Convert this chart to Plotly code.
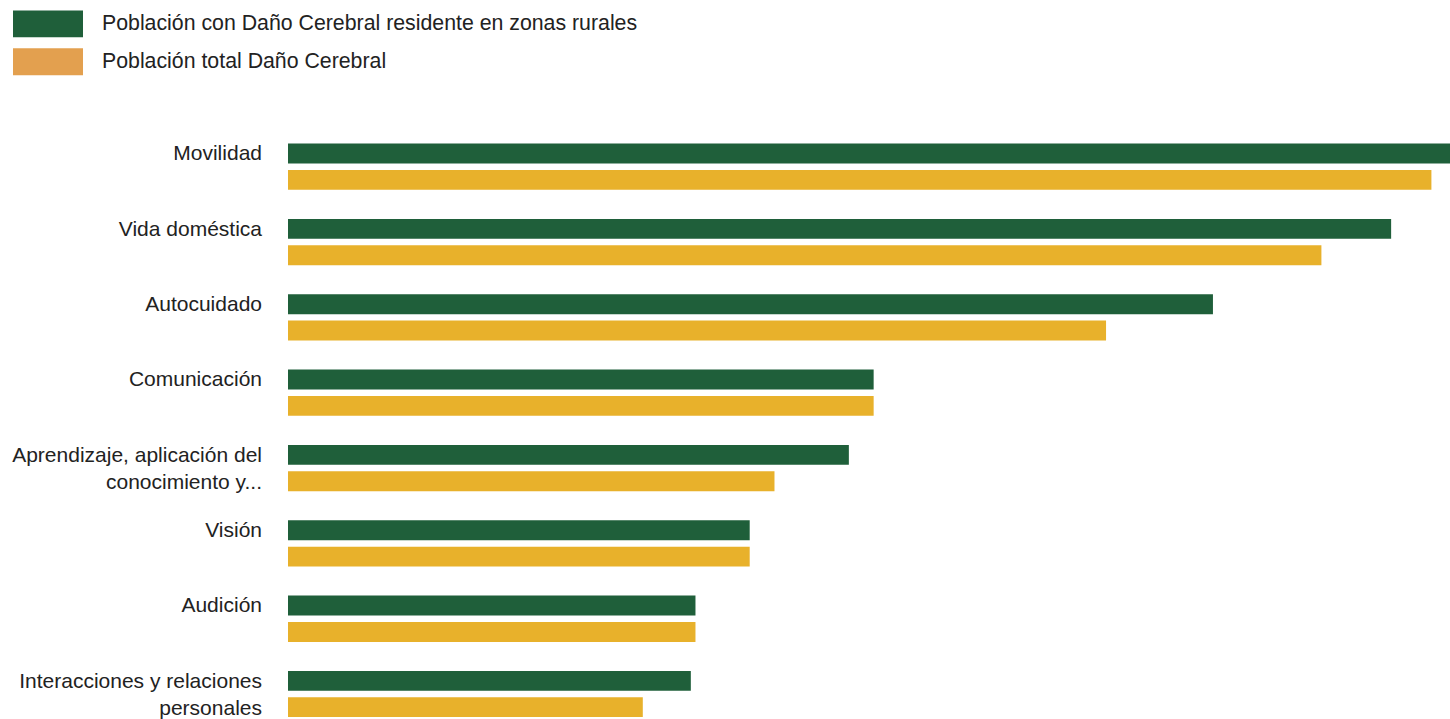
import plotly.graph_objects as go

categories = [
    "Movilidad",
    "Vida doméstica",
    "Autocuidado",
    "Comunicación",
    "Aprendizaje, aplicación del<br>conocimiento y...",
    "Visión",
    "Audición",
    "Interacciones y relaciones<br>personales",
]
rural = [75.0, 71.2, 59.7, 37.8, 36.2, 29.8, 26.3, 26.0]
total = [73.8, 66.7, 52.8, 37.8, 31.4, 29.8, 26.3, 22.9]
series_names = [
    "Población con Daño Cerebral residente en zonas rurales",
    "Población total Daño Cerebral",
]

GREEN = "#1F5F3A"
GOLD = "#E8B12B"
LEGEND_ORANGE = "#E3A04F"
FONT = "Liberation Sans, Arial, Helvetica, sans-serif"

W, H = 1450, 719
ML, MR, MT, MB = 288, 0, 129, 0
PW, PH = W - ML - MR, H - MT - MB


def px_x(px):
    return (px - ML) / PW


def px_y(py):
    return (H - MB - py) / PH


# single-line labels sit a little higher than the category centre
ticktext = [c if "<br>" in c else c + "<br> " for c in categories]

fig = go.Figure()
fig.add_trace(go.Bar(y=categories, x=rural, orientation="h", name=series_names[0],
                     marker=dict(color=GREEN, line=dict(width=0)), showlegend=False))
fig.add_trace(go.Bar(y=categories, x=total, orientation="h", name=series_names[1],
                     marker=dict(color=GOLD, line=dict(width=0)), showlegend=False))

# legend drawn as swatches + labels
legend_items = [(series_names[0], GREEN, 10, 37), (series_names[1], LEGEND_ORANGE, 48, 75)]
for name, col, y0, y1 in legend_items:
    fig.add_shape(type="rect", xref="paper", yref="paper",
                  x0=px_x(13), x1=px_x(83), y0=px_y(y1), y1=px_y(y0),
                  fillcolor=col, line=dict(width=0))
    fig.add_annotation(xref="paper", yref="paper", x=px_x(100), y=px_y((y0 + y1) / 2 - 1),
                       text=name, showarrow=False, xanchor="left", yanchor="middle",
                       font=dict(size=21.3, color="#222222", family=FONT))

fig.update_layout(
    width=W, height=H,
    margin=dict(l=ML, r=MR, t=MT, b=MB, pad=0),
    paper_bgcolor="white", plot_bgcolor="white",
    barmode="group", bargap=0.30, bargroupgap=0.245,
    font=dict(family=FONT, size=21, color="#222222"),
    xaxis=dict(range=[0, 75.0], showticklabels=False, showgrid=False, zeroline=False,
               showline=False, fixedrange=True),
    yaxis=dict(range=[7.304, -0.5], tickmode="array", tickvals=categories, ticktext=ticktext,
               showgrid=False, zeroline=False, showline=False, ticks="",
               ticklabelstandoff=25, fixedrange=True),
    showlegend=False,
)

fig.write_html("out.html")
